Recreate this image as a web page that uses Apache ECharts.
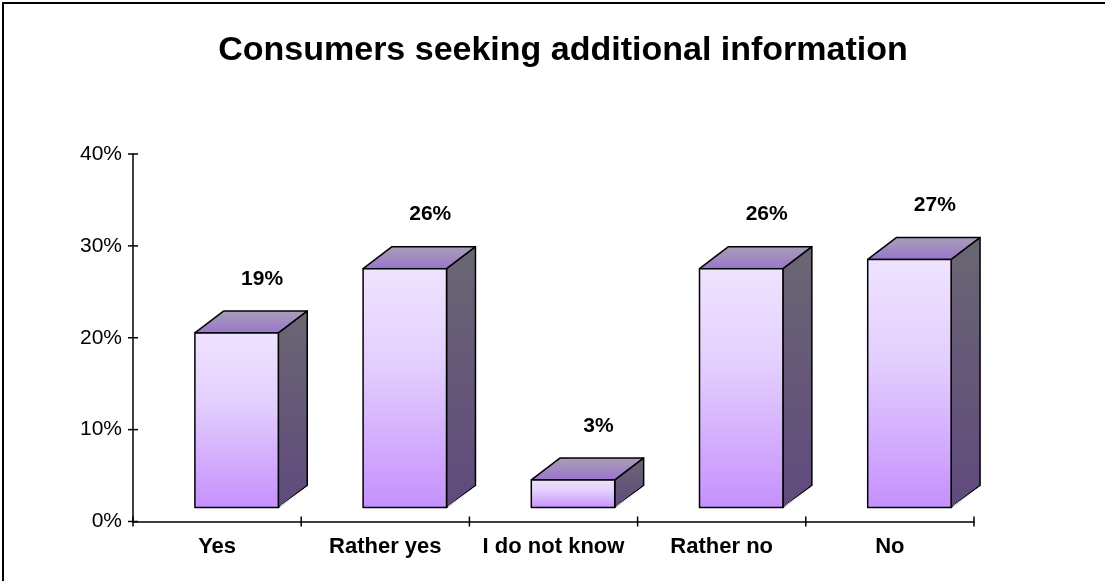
<!DOCTYPE html>
<html>
<head>
<meta charset="utf-8">
<script src="https://cdn.jsdelivr.net/npm/echarts@6/dist/echarts.min.js"></script>
<style>
  html, body { margin: 0; padding: 0; background: #ffffff; }
  #chart { width: 1105px; height: 581px; }
</style>
</head>
<body>
<div id="chart"></div>
<script>
// Survey answers and their shares (percent)
const categories = ['Yes', 'Rather yes', 'I do not know', 'Rather no', 'No'];
const shares = [19, 26, 3, 26, 27];
const yTickValues = [0, 10, 20, 30, 40];
const chartTitle = 'Consumers seeking additional information';

const FONT = '"Liberation Sans", Arial, sans-serif';

const chart = echarts.init(document.getElementById('chart'), null, { renderer: 'canvas' });

const frontFill = new echarts.graphic.LinearGradient(0, 0, 0, 1, [
  { offset: 0, color: '#efe3ff' },
  { offset: 0.4, color: '#e3cffe' },
  { offset: 1, color: '#c690fd' }
]);
const sideFill = new echarts.graphic.LinearGradient(0, 0, 0, 1, [
  { offset: 0, color: '#6a6672' },
  { offset: 1, color: '#604a7e' }
]);
const topFill = new echarts.graphic.LinearGradient(0, 0, 0, 1, [
  { offset: 0, color: '#aa9fb7' },
  { offset: 1, color: '#9975cc' }
]);

// 3D-looking column: front face, right side face and top face, value label above
function renderColumn(params, api) {
  const idx = api.value(0);
  const val = api.value(1);
  const base = api.coord([idx, 0]);
  const peak = api.coord([idx, val]);
  const band = api.size([1, 0])[0];
  const lift = 14;
  const w = band * 0.496;
  const x0 = base[0] - band * 0.132;
  const dx = band * 0.172;
  const dy = 22;
  const yb = base[1] - lift;
  const yt = peak[1] - lift;
  const stroke = { stroke: '#000', lineWidth: 1.5, lineJoin: 'round' };
  return {
    type: 'group',
    children: [
      {
        type: 'polygon',
        shape: { points: [[x0 + w, yt], [x0 + w + dx, yt - dy], [x0 + w + dx, yb - dy], [x0 + w, yb]] },
        style: Object.assign({ fill: sideFill }, stroke)
      },
      {
        type: 'line',
        shape: { x1: x0 + w + 1.5, y1: yb - 1, x2: x0 + w + dx + 0.5, y2: yb - dy + 1 },
        style: { stroke: '#ffffff', lineWidth: 1 }
      },
      {
        type: 'polygon',
        shape: { points: [[x0, yt], [x0 + dx, yt - dy], [x0 + w + dx, yt - dy], [x0 + w, yt]] },
        style: Object.assign({ fill: topFill }, stroke)
      },
      {
        type: 'rect',
        shape: { x: x0, y: yt, width: w, height: yb - yt },
        style: Object.assign({ fill: frontFill }, stroke)
      },
      {
        type: 'text',
        style: {
          text: val + '%',
          x: x0 + w / 2 + dx * 0.88,
          y: yt - 54,
          align: 'center',
          verticalAlign: 'middle',
          font: 'bold 21px ' + FONT,
          fill: '#000'
        }
      }
    ]
  };
}

// Tick marks crossing the value axis
function renderYTick(params, api) {
  const p = api.coord([0, api.value(0)]);
  const band = api.size([1, 0])[0];
  const x = p[0] - band / 2;
  return {
    type: 'line',
    shape: { x1: x - 5, y1: p[1], x2: x + 5, y2: p[1] },
    style: { stroke: '#000', lineWidth: 1.5 }
  };
}

// Tick marks crossing the category axis, at the category boundaries
function renderXTick(params, api) {
  const k = api.value(0);
  const p = api.coord([0, 0]);
  const band = api.size([1, 0])[0];
  const x = p[0] - band / 2 + k * band;
  return {
    type: 'line',
    shape: { x1: x, y1: p[1] - 5, x2: x, y2: p[1] + 5 },
    style: { stroke: '#000', lineWidth: 1.5 }
  };
}

const option = {
  animation: false,
  backgroundColor: '#ffffff',
  graphic: [
    {
      type: 'rect',
      shape: { x: 3, y: 3, width: 1200, height: 700 },
      style: { fill: 'none', stroke: '#000', lineWidth: 2 },
      silent: true
    },
    {
      type: 'text',
      x: 563,
      y: 51,
      style: {
        text: chartTitle,
        font: 'bold 34px ' + FONT,
        fill: '#000',
        align: 'center',
        verticalAlign: 'middle'
      }
    }
  ],
  grid: { left: 133, right: 131, top: 154, bottom: 59.5 },
  xAxis: {
    type: 'category',
    data: categories,
    boundaryGap: true,
    axisLine: { lineStyle: { color: '#000', width: 1.5 } },
    axisTick: { show: false },
    axisLabel: { color: '#000', fontFamily: FONT, fontWeight: 'bold', fontSize: 22, margin: 14, interval: 0 },
    splitLine: { show: false }
  },
  yAxis: {
    type: 'value',
    min: yTickValues[0],
    max: yTickValues[yTickValues.length - 1],
    interval: 10,
    axisLine: { show: true, lineStyle: { color: '#000', width: 1.5 } },
    axisTick: { show: false },
    axisLabel: { color: '#000', fontFamily: FONT, fontSize: 21, margin: 11, formatter: '{value}%' },
    splitLine: { show: false }
  },
  series: [
    {
      type: 'custom',
      renderItem: renderYTick,
      data: yTickValues.map(v => [v]),
      clip: false,
      silent: true
    },
    {
      type: 'custom',
      renderItem: renderXTick,
      data: categories.map((c, i) => [i]).concat([[categories.length]]),
      clip: false,
      silent: true
    },
    {
      type: 'custom',
      renderItem: renderColumn,
      data: shares.map((v, i) => [i, v]),
      clip: false
    }
  ]
};

chart.setOption(option);
</script>
</body>
</html>
